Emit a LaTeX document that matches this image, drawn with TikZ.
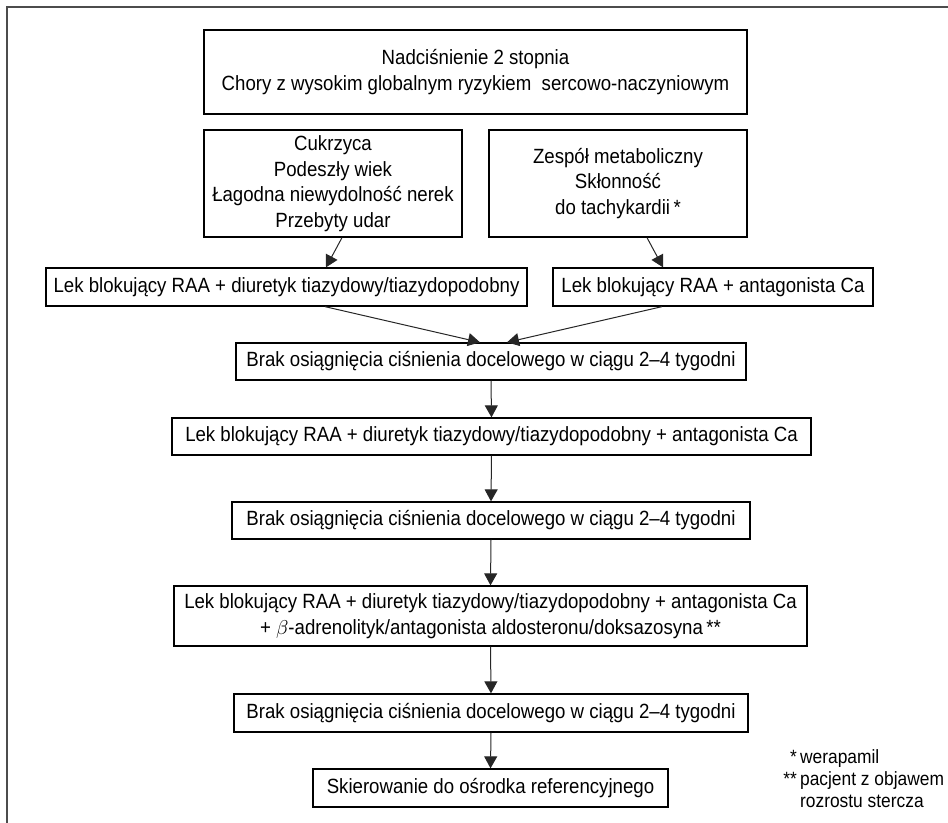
\documentclass[tikz,border=0pt]{standalone}
\usepackage{fontspec}
\setmainfont{Liberation Sans}[FakeStretch=0.905]
\usetikzlibrary{arrows.meta}

\begin{document}
\begin{tikzpicture}[x=0.5pt,y=-0.5pt]
\tikzset{
  box/.style={draw, line width=0.65pt, align=center, inner sep=0pt,
    font=\fontsize{10.3}{12.8}\selectfont},
  arr/.style={-{Triangle[length=6pt,width=6.5pt]}, line width=0.5pt, black!85},
  note/.style={font=\fontsize{9.6}{11}\selectfont, inner sep=0pt},
}
\useasboundingbox (0,0) rectangle (948,823);
% frame of the figure
\draw[line width=0.8pt, black!70] (948,7) -- (7,7) -- (7,823);

\node[box, minimum width=271.5pt, minimum height=42pt] (start) at (475.5,72)
  {Nadciśnienie 2 stopnia\\Chory z wysokim globalnym ryzykiem\ \ sercowo-naczyniowym};
\node[box, minimum width=129pt, minimum height=53.5pt] (condL) at (333,183.5)
  {Cukrzyca\\Podeszły wiek\\Łagodna niewydolność nerek\\Przebyty udar};
\node[box, minimum width=129pt, minimum height=53.5pt] (condR) at (618,183.5)
  {Zespół metaboliczny\\Skłonność\\do tachykardii\,*};
\node[box, minimum width=240.5pt, minimum height=19pt] (treatL) at (286.5,287)
  {Lek blokujący RAA + diuretyk tiazydowy/tiazydopodobny};
\node[box, minimum width=160pt, minimum height=19pt] (treatR) at (713,287)
  {Lek blokujący RAA + antagonista Ca};
\node[box, minimum width=255pt, minimum height=18.5pt] (failA) at (491,361.5)
  {Brak osiągnięcia ciśnienia docelowego w ciągu 2--4 tygodni};
\node[box, minimum width=319.5pt, minimum height=18.5pt] (triple) at (491.5,436.5)
  {Lek blokujący RAA + diuretyk tiazydowy/tiazydopodobny + antagonista Ca};
\node[box, minimum width=259pt, minimum height=18.5pt] (failB) at (491,520.5)
  {Brak osiągnięcia ciśnienia docelowego w ciągu 2--4 tygodni};
\node[box, minimum width=316.5pt, minimum height=30pt] (quad) at (490.5,616)
  {Lek blokujący RAA + diuretyk tiazydowy/tiazydopodobny + antagonista Ca\\
   + $\beta$-adrenolityk/antagonista aldosteronu/doksazosyna\,**};
\node[box, minimum width=257pt, minimum height=19pt] (failC) at (491,713)
  {Brak osiągnięcia ciśnienia docelowego w ciągu 2--4 tygodni};
\node[box, minimum width=177.5pt, minimum height=19pt] (refer) at (490.5,788)
  {Skierowanie do ośrodka referencyjnego};

\node[note, anchor=north west] (notes) at (783,748)
  {\begin{tabular}{@{}r@{\,}l@{}}
   *&werapamil\\
   {**}&pacjent z objawem\\
   &rozrostu stercza
   \end{tabular}};

\draw[arr] ([xshift=4.5pt]condL.south) -- ([xshift=19.75pt]treatL.north);
\draw[arr] ([xshift=14.5pt]condR.south) -- ([xshift=-25pt]treatR.north);
\draw[arr] ([xshift=19.25pt]treatL.south) -- ([xshift=-5.5pt]failA.north);
\draw[arr] ([xshift=-25.5pt]treatR.south) -- ([xshift=8pt]failA.north);
\foreach \a/\b in {failA/triple, triple/failB, failB/quad, quad/failC, failC/refer}
  \draw[arr] (\a.south) -- (\b.north);
\end{tikzpicture}
\end{document}
